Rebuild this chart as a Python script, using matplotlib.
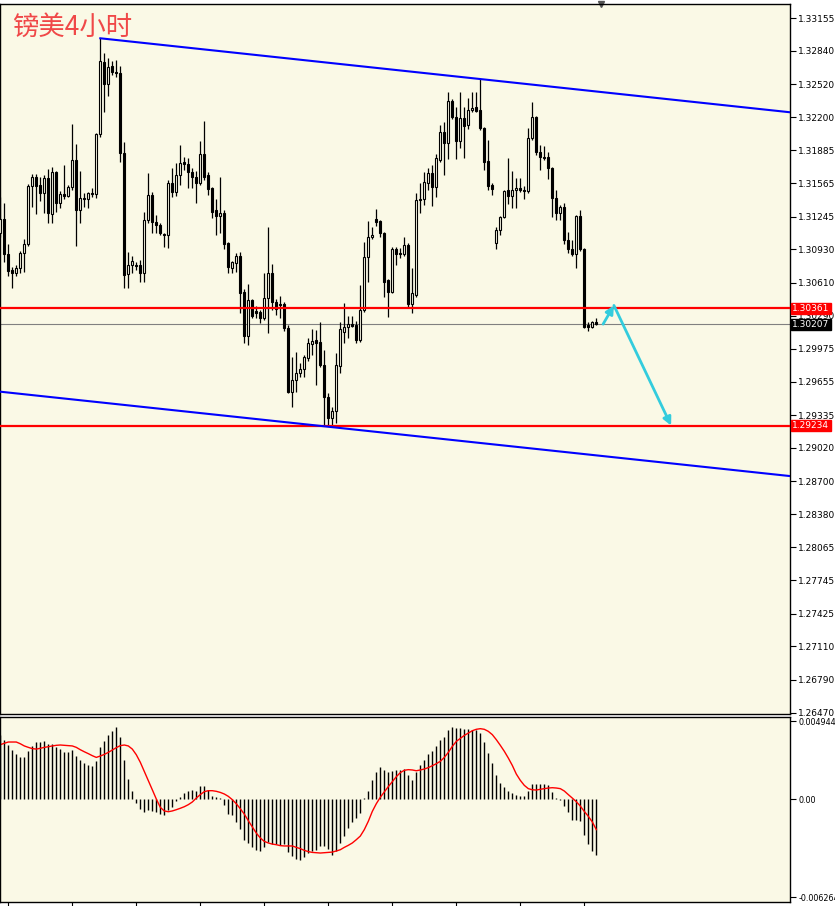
import numpy as np
import matplotlib
matplotlib.use("Agg")
import matplotlib.pyplot as plt

# GBPUSD 4H candles
opens = [1.3109, 1.3122, 1.3088, 1.3073, 1.3070, 1.3075, 1.3089, 1.3098, 1.3154, 1.3163,
         1.3155, 1.3147, 1.3162, 1.3127, 1.3167, 1.3138, 1.3146, 1.3144, 1.3153, 1.3179,
         1.3131, 1.3142, 1.3141, 1.3147, 1.3146, 1.3204, 1.3273, 1.3252, 1.3269, 1.3264,
         1.3263, 1.3186, 1.3069, 1.3078, 1.3078, 1.3078, 1.3070, 1.3121, 1.3145, 1.3119,
         1.3116, 1.3108, 1.3107, 1.3157, 1.3148, 1.3164, 1.3177, 1.3175, 1.3167, 1.3163,
         1.3157, 1.3185, 1.3164, 1.3152, 1.3131, 1.3125, 1.3128, 1.3099, 1.3075, 1.3080,
         1.3087, 1.3052, 1.3010, 1.3044, 1.3034, 1.3033, 1.3027, 1.3046, 1.3070, 1.3042,
         1.3040, 1.3040, 1.3017, 1.2956, 1.2967, 1.2974, 1.2978, 1.2988, 1.3002, 1.3006,
         1.3004, 1.2982, 1.2951, 1.2931, 1.2937, 1.2981, 1.3013, 1.3018, 1.3021, 1.3020,
         1.3006, 1.3035, 1.3086, 1.3105, 1.3122, 1.3120, 1.3109, 1.3063, 1.3052, 1.3093,
         1.3089, 1.3088, 1.3097, 1.3040, 1.3049, 1.3140, 1.3141, 1.3157, 1.3166, 1.3153,
         1.3179, 1.3206, 1.3195, 1.3236, 1.3220, 1.3197, 1.3219, 1.3213, 1.3227, 1.3230,
         1.3227, 1.3210, 1.3178, 1.3155, 1.3099, 1.3112, 1.3124, 1.3150, 1.3144, 1.3150,
         1.3152, 1.3150, 1.3149, 1.3200, 1.3220, 1.3187, 1.3182, 1.3182, 1.3171, 1.3142,
         1.3128, 1.3134, 1.3102, 1.3093, 1.3088, 1.3125, 1.3093, 1.3020, 1.3018, 1.3023]
highs = [1.3143, 1.3138, 1.3098, 1.3076, 1.3078, 1.3091, 1.3103, 1.3156, 1.3165, 1.3165,
         1.3163, 1.3164, 1.3170, 1.3172, 1.3168, 1.3149, 1.3174, 1.3155, 1.3214, 1.3194,
         1.3168, 1.3147, 1.3148, 1.3152, 1.3205, 1.3296, 1.3282, 1.3277, 1.3274, 1.3275,
         1.3269, 1.3196, 1.3090, 1.3087, 1.3081, 1.3083, 1.3129, 1.3166, 1.3148, 1.3126,
         1.3118, 1.3109, 1.3160, 1.3171, 1.3176, 1.3193, 1.3182, 1.3181, 1.3171, 1.3168,
         1.3197, 1.3216, 1.3167, 1.3153, 1.3141, 1.3163, 1.3131, 1.3100, 1.3082, 1.3089,
         1.3090, 1.3055, 1.3060, 1.3045, 1.3038, 1.3035, 1.3070, 1.3114, 1.3079, 1.3045,
         1.3048, 1.3042, 1.3020, 1.2989, 1.2994, 1.2984, 1.2991, 1.3008, 1.3016, 1.3015,
         1.3023, 1.2996, 1.2955, 1.2941, 1.2993, 1.3023, 1.3041, 1.3029, 1.3029, 1.3024,
         1.3059, 1.3100, 1.3120, 1.3114, 1.3132, 1.3121, 1.3110, 1.3064, 1.3095, 1.3095,
         1.3094, 1.3105, 1.3099, 1.3075, 1.3147, 1.3157, 1.3167, 1.3171, 1.3174, 1.3185,
         1.3213, 1.3215, 1.3244, 1.3238, 1.3230, 1.3244, 1.3230, 1.3239, 1.3244, 1.3244,
         1.3257, 1.3211, 1.3198, 1.3157, 1.3114, 1.3125, 1.3150, 1.3181, 1.3168, 1.3162,
         1.3162, 1.3154, 1.3210, 1.3235, 1.3221, 1.3193, 1.3192, 1.3187, 1.3172, 1.3150,
         1.3136, 1.3138, 1.3110, 1.3102, 1.3126, 1.3131, 1.3094, 1.3023, 1.3024, 1.3027]
lows = [1.3105, 1.3081, 1.3067, 1.3056, 1.3067, 1.3070, 1.3071, 1.3096, 1.3134, 1.3127,
        1.3139, 1.3128, 1.3118, 1.3118, 1.3129, 1.3133, 1.3141, 1.3143, 1.3150, 1.3096,
        1.3118, 1.3134, 1.3133, 1.3143, 1.3142, 1.3201, 1.3225, 1.3240, 1.3261, 1.3259,
        1.3177, 1.3056, 1.3056, 1.3070, 1.3073, 1.3062, 1.3062, 1.3118, 1.3109, 1.3109,
        1.3107, 1.3095, 1.3094, 1.3143, 1.3144, 1.3155, 1.3169, 1.3152, 1.3152, 1.3138,
        1.3155, 1.3160, 1.3145, 1.3123, 1.3107, 1.3109, 1.3093, 1.3070, 1.3070, 1.3071,
        1.3032, 1.3003, 1.3001, 1.3027, 1.3027, 1.3022, 1.3025, 1.3012, 1.3035, 1.3030,
        1.3027, 1.3014, 1.2955, 1.2941, 1.2956, 1.2970, 1.2970, 1.2986, 1.2991, 1.2962,
        1.2980, 1.2924, 1.2924, 1.2922, 1.2926, 1.2974, 1.3003, 1.3008, 1.3018, 1.3003,
        1.3004, 1.3033, 1.3062, 1.3103, 1.3115, 1.3105, 1.3047, 1.3028, 1.3051, 1.3078,
        1.3085, 1.3087, 1.3037, 1.3032, 1.3047, 1.3128, 1.3136, 1.3150, 1.3135, 1.3143,
        1.3177, 1.3164, 1.3180, 1.3218, 1.3180, 1.3190, 1.3181, 1.3209, 1.3225, 1.3225,
        1.3208, 1.3169, 1.3150, 1.3145, 1.3093, 1.3107, 1.3123, 1.3137, 1.3133, 1.3133,
        1.3148, 1.3141, 1.3147, 1.3198, 1.3184, 1.3169, 1.3179, 1.3161, 1.3124, 1.3121,
        1.3121, 1.3098, 1.3089, 1.3087, 1.3075, 1.3091, 1.3017, 1.3014, 1.3017, 1.3020]
closes = [1.3122, 1.3088, 1.3072, 1.3070, 1.3075, 1.3089, 1.3098, 1.3154, 1.3163, 1.3154,
          1.3147, 1.3162, 1.3128, 1.3167, 1.3138, 1.3146, 1.3144, 1.3153, 1.3179, 1.3131,
          1.3142, 1.3141, 1.3147, 1.3146, 1.3204, 1.3274, 1.3252, 1.3268, 1.3264, 1.3263,
          1.3186, 1.3068, 1.3078, 1.3082, 1.3077, 1.3070, 1.3121, 1.3145, 1.3119, 1.3116,
          1.3109, 1.3107, 1.3157, 1.3148, 1.3164, 1.3176, 1.3175, 1.3167, 1.3163, 1.3157,
          1.3185, 1.3163, 1.3151, 1.3129, 1.3125, 1.3128, 1.3098, 1.3076, 1.3081, 1.3087,
          1.3051, 1.3010, 1.3044, 1.3029, 1.3032, 1.3027, 1.3046, 1.3070, 1.3042, 1.3036,
          1.3039, 1.3017, 1.2956, 1.2967, 1.2974, 1.2978, 1.2989, 1.3003, 1.3005, 1.3003,
          1.2982, 1.2951, 1.2931, 1.2937, 1.2982, 1.3016, 1.3018, 1.3021, 1.3019, 1.3006,
          1.3035, 1.3086, 1.3105, 1.3107, 1.3119, 1.3109, 1.3062, 1.3052, 1.3093, 1.3088,
          1.3088, 1.3097, 1.3040, 1.3051, 1.3140, 1.3141, 1.3158, 1.3166, 1.3153, 1.3181,
          1.3206, 1.3195, 1.3236, 1.3220, 1.3197, 1.3219, 1.3212, 1.3227, 1.3229, 1.3226,
          1.3210, 1.3177, 1.3154, 1.3151, 1.3112, 1.3124, 1.3149, 1.3144, 1.3150, 1.3152,
          1.3150, 1.3149, 1.3200, 1.3220, 1.3187, 1.3182, 1.3181, 1.3171, 1.3142, 1.3128,
          1.3134, 1.3102, 1.3093, 1.3088, 1.3125, 1.3093, 1.3018, 1.3018, 1.3023, 1.30207]

# MACD histogram and signal line, in units of 1e-4
macd_hist = [40.5, 37.8, 34.6, 31.0, 28.7, 26.7, 26.7, 30.4, 34.0, 36.1,
             36.1, 36.7, 35.0, 35.0, 33.1, 31.8, 29.9, 29.9, 31.0, 27.2,
             25.1, 22.9, 21.9, 20.8, 24.0, 33.1, 37.2, 41.0, 43.5, 45.6,
             39.3, 24.6, 13.0, 4.9, -2.5, -6.2, -8.5, -6.8, -7.4, -8.5,
             -9.6, -10.4, -6.8, -5.3, -1.5, 1.1, 3.8, 5.3, 5.9, 5.3,
             8.1, 8.1, 5.9, 1.7, 1.1, 0.6, -4.0, -9.6, -10.0, -14.6,
             -19.1, -25.9, -28.0, -30.8, -32.3, -32.9, -30.8, -27.6, -28.7, -28.7,
             -29.1, -28.7, -33.8, -36.5, -38.0, -38.6, -37.2, -34.4, -32.9, -32.3,
             -30.1, -30.1, -31.6, -35.9, -32.9, -28.0, -23.8, -18.5, -14.9, -12.1,
             -8.9, 0.6, 5.3, 11.9, 17.0, 20.4, 18.7, 17.0, 18.0, 18.7,
             18.7, 19.3, 15.1, 12.3, 17.2, 21.9, 25.1, 28.7, 30.8, 34.0,
             37.8, 39.5, 44.2, 45.9, 45.2, 45.2, 44.8, 44.6, 44.2, 44.2,
             42.0, 36.1, 29.3, 22.9, 15.5, 10.2, 7.4, 5.3, 3.8, 2.8,
             2.1, 1.7, 4.9, 9.6, 9.6, 9.8, 9.6, 8.7, 4.5, 0.6,
             -0.4, -4.7, -8.5, -13.6, -13.6, -13.8, -23.1, -28.7, -33.3, -35.9]
macd_signal = [34.6, 35.5, 36.3, 36.3, 36.3, 35.2, 33.8, 32.9, 32.1, 31.8,
               32.3, 32.9, 33.3, 33.8, 34.2, 34.4, 34.2, 34.0, 33.8, 32.9,
               31.4, 30.1, 28.9, 27.6, 26.5, 27.4, 28.4, 29.7, 31.2, 32.7,
               34.0, 34.4, 33.8, 31.8, 28.2, 23.4, 17.6, 11.7, 5.9, 0.0,
               -5.3, -7.6, -8.1, -7.6, -6.8, -5.9, -4.9, -3.6, -1.9, 0.6,
               2.8, 4.7, 5.3, 5.3, 4.9, 4.2, 3.2, 1.7, -0.4, -3.0,
               -6.2, -9.6, -13.8, -17.8, -21.7, -24.8, -27.0, -28.0, -28.7, -29.1,
               -29.7, -29.9, -29.9, -29.9, -30.8, -31.6, -32.7, -33.5, -34.0, -34.2,
               -34.4, -34.2, -34.0, -33.8, -33.1, -32.3, -30.8, -29.5, -28.0, -25.9,
               -23.6, -19.5, -14.2, -7.9, -3.0, 1.1, 4.5, 7.9, 11.0, 14.2,
               16.8, 18.3, 18.7, 18.5, 18.0, 18.5, 19.1, 20.0, 21.2, 22.5,
               24.0, 26.5, 29.7, 33.5, 36.7, 38.6, 40.5, 42.0, 43.5, 44.4,
               44.8, 44.4, 43.1, 41.0, 37.8, 34.2, 30.4, 26.1, 21.4, 15.9,
               11.9, 8.7, 6.6, 5.9, 5.7, 6.2, 6.6, 7.0, 7.2, 7.0,
               6.6, 5.1, 2.8, 0.6, -1.7, -4.5, -7.9, -11.0, -14.6, -19.5]

# levels and drawn objects
resistance = 1.30361
support = 1.29234
last_price = 1.30207
upper_channel = ([25, 197], [1.3296, 1.3225])   # (bar index, price) anchors
lower_channel = ([0, 197], [1.2956, 1.2875])
arrow_up = ([150.7, 153.4], [1.3021, 1.3039])
arrow_down = ([153.4, 167.7], [1.3039, 1.29234])

price_ticks = [1.33155, 1.32840, 1.32520, 1.32200, 1.31885, 1.31565, 1.31245, 1.30930,
               1.30610, 1.30290, 1.29975, 1.29655, 1.29335, 1.29020, 1.28700, 1.28380,
               1.28065, 1.27745, 1.27425, 1.27110, 1.26790, 1.26470]
macd_ticks = [0.004944, 0.0, -0.006264]
macd_ticklabels = ["0.004944", "0.00", "-0.006264"]
time_ticks = [2, 18, 34, 50, 66, 82, 98, 114, 130, 146]

bg = "#FAF9E6"
opens, highs, lows, closes = map(np.array, (opens, highs, lows, closes))
idx = np.arange(len(closes))
xlim = (-0.075, 197.4)

fig = plt.figure(figsize=(8.35, 9.06), dpi=100, facecolor="white")
ax = fig.add_axes([0, 0.2119, 0.946, 0.7837], facecolor=bg)
ax2 = fig.add_axes([0, 0.0044, 0.946, 0.2042], facecolor=bg)

# candles
up = closes >= opens
body_lo = np.minimum(opens, closes)
body_h = np.abs(closes - opens)
ax.vlines(idx, lows, highs, color="black", lw=0.9, zorder=2)
ax.bar(idx[up], body_h[up], bottom=body_lo[up], width=0.55, color=bg,
       edgecolor="black", lw=0.8, zorder=3)
ax.bar(idx[~up], body_h[~up], bottom=body_lo[~up], width=0.55, color="black",
       edgecolor="black", lw=0.8, zorder=3)

# horizontal levels
ax.axhline(resistance, color="#FF0000", lw=1.6, zorder=4)
ax.axhline(support, color="#FF0000", lw=1.6, zorder=4)
ax.axhline(last_price, color="#808080", lw=0.8, zorder=1)


def extend(anchor, x0, x1):
    (a, b), (pa, pb) = anchor
    slope = (pb - pa) / (b - a)
    return [x0, x1], [pa + slope * (x0 - a), pa + slope * (x1 - a)]


xs, ys = extend(upper_channel, upper_channel[0][0], xlim[1])
ax.plot(xs, ys, color="#0000FF", lw=1.5, zorder=4)
xs, ys = extend(lower_channel, xlim[0], xlim[1])
ax.plot(xs, ys, color="#0000FF", lw=1.5, zorder=4)

cyan = "#33CCDD"
for arr in (arrow_up, arrow_down):
    ax.annotate("", xy=(arr[0][1], arr[1][1]), xytext=(arr[0][0], arr[1][0]),
                arrowprops=dict(arrowstyle="-|>", color=cyan, lw=2,
                                mutation_scale=12, shrinkA=0, shrinkB=0), zorder=5)

ax.set_xlim(*xlim)
ax.set_ylim(1.26459, 1.33290)
ax.set_xticks([])
ax.yaxis.tick_right()
ax.set_yticks(price_ticks)
ax.set_yticklabels(["%.5f" % t for t in price_ticks])
ax.tick_params(axis="y", direction="out", length=4, width=0.8, labelsize=6.5, pad=2)

# price boxes on the right scale
for val, fc in ((resistance, "#FF0000"), (support, "#FF0000"), (last_price, "black")):
    ax.text(1.003, val, "%.5f" % val, transform=ax.get_yaxis_transform(),
            ha="left", va="center", fontsize=6.5, color="white", clip_on=False,
            bbox=dict(boxstyle="square,pad=0.15", fc=fc, ec=fc), zorder=10)

ax.plot([0.761], [1.0], marker="v", color="#555555", markersize=5,
        transform=ax.transAxes, clip_on=False)

fig.text(12 / 835, 1 - 27 / 906, "镑美4小时", color="#F04848", fontsize=19,
         family=["Noto Sans CJK SC", "DejaVu Sans"], va="center", ha="left")

# MACD panel
hist = np.array(macd_hist) * 1e-4
sig = np.array(macd_signal) * 1e-4
ax2.vlines(idx, 0, hist, color="black", lw=1.0)
ax2.plot(idx, sig, color="#FF0000", lw=1.0)
ax2.set_xlim(*xlim)
ax2.set_ylim(-0.00656, 0.005223)
ax2.yaxis.tick_right()
ax2.set_yticks(macd_ticks)
ax2.set_yticklabels(macd_ticklabels)
ax2.tick_params(axis="y", direction="out", length=4, width=0.8, labelsize=5.8, pad=2)
ax2.set_xticks(time_ticks)
ax2.set_xticklabels([])
ax2.tick_params(axis="x", direction="out", length=4, width=0.8)

for a in (ax, ax2):
    for s in a.spines.values():
        s.set_color("black")
        s.set_linewidth(1)

fig.savefig("out.png", dpi=100, facecolor="white")
